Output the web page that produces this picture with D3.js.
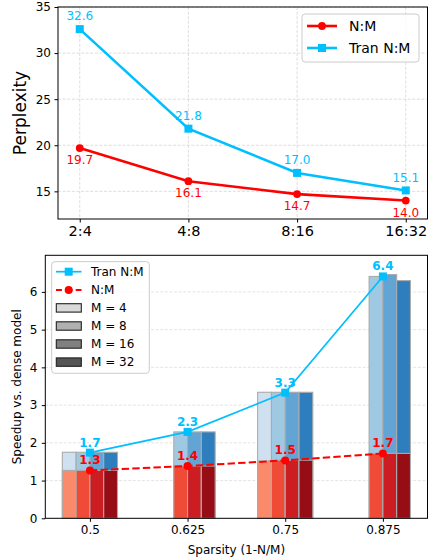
<!DOCTYPE html>
<html>
<head>
<meta charset="utf-8">
<script src="https://cdn.jsdelivr.net/npm/d3@7"></script>
<style>
  html, body { margin: 0; padding: 0; background: #fff; }
  svg { display: block; font-family: "DejaVu Sans", sans-serif; }
</style>
</head>
<body>
<svg id="chart" width="428" height="558"></svg>
<script>
// ---------- Top chart data ----------
const topCategories = ["2:4", "4:8", "8:16", "16:32"];
const topNM = [19.7, 16.1, 14.7, 14.0];
const topTran = [32.6, 21.8, 17.0, 15.1];
const topYTicks = [15, 20, 25, 30, 35];

// ---------- Bottom chart data ----------
const sparsity = [0.5, 0.625, 0.75, 0.875];
const mValues = [4, 8, 16, 32];
const tranM4  = [1.75, null, 3.34, null];
const tranM8  = [1.75, 2.29, 3.34, 6.41];
const tranM16 = [1.75, 2.29, 3.34, 6.46];
const tranM32 = [1.75, 2.29, 3.34, 6.30];
const nmM4  = [1.27, null, 1.52, null];
const nmM8  = [1.27, 1.385, 1.54, 1.72];
const nmM16 = [1.27, 1.385, 1.54, 1.72];
const nmM32 = [1.27, 1.385, 1.54, 1.72];
const tranLine = [1.74, 2.29, 3.33, 6.41];
const nmLine = [1.27, 1.385, 1.535, 1.72];
const bottomYTicks = [0, 1, 2, 3, 4, 5, 6];

const blueColors = ["#cfe1f1", "#9fc8e2", "#62a4d3", "#2e7ebd"];
const redColors  = ["#fb8a6a", "#f04b37", "#cb1d22", "#960d16"];
const legendGrays = ["#d9d9d9", "#b0b0b0", "#808080", "#555555"];
const RED = "#ff0000", CYAN = "#00bfff";

const svg = d3.select("#chart");
svg.append("rect").attr("width", 428).attr("height", 558).attr("fill", "#fff");

// ================= TOP CHART =================
{
  const L = 58, R = 427.5, T = 7, B = 219;
  const x = d3.scaleLinear().domain([-0.2, 3.2]).range([L, R]);
  const y = d3.scaleLinear().domain([12, 35]).range([B, T]);
  const g = svg.append("g");

  // grid
  g.selectAll(".hg").data(topYTicks).join("line")
    .attr("x1", L).attr("x2", R).attr("y1", d => y(d)).attr("y2", d => y(d))
    .attr("stroke", "#d6d6d6").attr("stroke-width", 0.8).attr("stroke-dasharray", "3,1.6");
  g.selectAll(".vg").data(topCategories).join("line")
    .attr("x1", (d, i) => x(i)).attr("x2", (d, i) => x(i)).attr("y1", T).attr("y2", B)
    .attr("stroke", "#d6d6d6").attr("stroke-width", 0.8).attr("stroke-dasharray", "3,1.6");

  // axes
  const xAxis = d3.axisBottom(x).tickValues([0, 1, 2, 3]).tickFormat(i => topCategories[i]).tickSize(3.5).tickPadding(3.5);
  const xa = g.append("g").attr("transform", `translate(0,${B})`).call(xAxis);
  xa.select(".domain").remove();
  xa.selectAll("text").attr("font-size", 14.5).attr("fill", "#000").attr("font-family", "DejaVu Sans");
  xa.selectAll("line").attr("stroke", "#000");
  const yAxis = d3.axisLeft(y).tickValues(topYTicks).tickFormat(d3.format("d")).tickSize(3.5).tickPadding(3.5);
  const ya = g.append("g").attr("transform", `translate(${L},0)`).call(yAxis);
  ya.select(".domain").remove();
  ya.selectAll("text").attr("font-size", 12).attr("fill", "#000").attr("font-family", "DejaVu Sans");
  ya.selectAll("line").attr("stroke", "#000");
  g.append("rect").attr("x", L).attr("y", T).attr("width", R - L).attr("height", B - T)
    .attr("fill", "none").attr("stroke", "#000").attr("stroke-width", 1);

  g.append("text").attr("transform", `translate(20,${(T + B) / 2}) rotate(-90)`)
    .attr("text-anchor", "middle").attr("dominant-baseline", "central")
    .attr("font-size", 17).text("Perplexity");

  const line = d3.line().x((d, i) => x(i)).y(d => y(d));
  g.append("path").datum(topNM).attr("d", line).attr("fill", "none").attr("stroke", RED).attr("stroke-width", 2.6);
  g.append("path").datum(topTran).attr("d", line).attr("fill", "none").attr("stroke", CYAN).attr("stroke-width", 2.6);
  g.selectAll(".nmpt").data(topNM).join("circle")
    .attr("cx", (d, i) => x(i)).attr("cy", d => y(d)).attr("r", 3.9).attr("fill", RED);
  g.selectAll(".trpt").data(topTran).join("rect")
    .attr("x", (d, i) => x(i) - 4).attr("y", d => y(d) - 4).attr("width", 8).attr("height", 8).attr("fill", CYAN);
  g.selectAll(".nml").data(topNM).join("text")
    .attr("x", (d, i) => x(i)).attr("y", d => y(d) + 16).attr("text-anchor", "middle")
    .attr("font-size", 12).attr("fill", RED).text(d => d.toFixed(1));
  g.selectAll(".trl").data(topTran).join("text")
    .attr("x", (d, i) => x(i)).attr("y", d => y(d) - 8.8).attr("text-anchor", "middle")
    .attr("font-size", 12).attr("fill", CYAN).text(d => d.toFixed(1));

  // legend
  const lg = g.append("g");
  lg.append("rect").attr("x", 302).attr("y", 14).attr("width", 117).attr("height", 48).attr("rx", 3)
    .attr("fill", "#fff").attr("fill-opacity", 0.8).attr("stroke", "#cccccc").attr("stroke-width", 1);
  const items = [{label: "N:M", c: RED, m: "circle", yy: 26}, {label: "Tran N:M", c: CYAN, m: "square", yy: 48}];
  items.forEach(it => {
    lg.append("line").attr("x1", 307).attr("x2", 337).attr("y1", it.yy).attr("y2", it.yy)
      .attr("stroke", it.c).attr("stroke-width", 2.6);
    if (it.m === "circle") lg.append("circle").attr("cx", 322).attr("cy", it.yy).attr("r", 3.9).attr("fill", it.c);
    else lg.append("rect").attr("x", 318).attr("y", it.yy - 4).attr("width", 8).attr("height", 8).attr("fill", it.c);
    lg.append("text").attr("x", 349).attr("y", it.yy).attr("dominant-baseline", "central")
      .attr("font-size", 14).text(it.label);
  });
}

// ================= BOTTOM CHART =================
{
  const L = 45.3, R = 427.5, T = 255.3, B = 518.3;
  const x = d3.scaleLinear().domain([0.4429, 0.9321]).range([L, R]);
  const y = d3.scaleLinear().domain([0, 6.97]).range([B, T]);
  const g = svg.append("g");

  g.selectAll(".hg").data(bottomYTicks.filter(d => d > 0)).join("line")
    .attr("x1", L).attr("x2", R).attr("y1", d => y(d)).attr("y2", d => y(d))
    .attr("stroke", "#dedede").attr("stroke-width", 0.8).attr("stroke-dasharray", "3,1.6");

  const bw = x(0.5 + 0.01765) - x(0.5);
  const tranSets = [tranM4, tranM8, tranM16, tranM32];
  const nmSets = [nmM4, nmM8, nmM16, nmM32];
  mValues.forEach((m, k) => {
    const off = (k - 1.5) * bw;
    const tr = sparsity.map((s, i) => ({s, v: tranSets[k][i]})).filter(d => d.v != null);
    const nm = sparsity.map((s, i) => ({s, v: nmSets[k][i]})).filter(d => d.v != null);
    g.selectAll(null).data(tr).join("rect")
      .attr("x", d => x(d.s) + off - bw / 2).attr("width", bw)
      .attr("y", d => y(d.v)).attr("height", d => y(0) - y(d.v))
      .attr("fill", blueColors[k]).attr("stroke", "#ababab").attr("stroke-width", 1.1);
    g.selectAll(null).data(nm).join("rect")
      .attr("x", d => x(d.s) + off - bw / 2).attr("width", bw)
      .attr("y", d => y(d.v)).attr("height", d => y(0) - y(d.v))
      .attr("fill", redColors[k]).attr("stroke", "#ababab").attr("stroke-width", 1.1);
  });

  // axes
  const xAxis = d3.axisBottom(x).tickValues(sparsity).tickFormat(d => String(d)).tickSize(3.5).tickPadding(3.5);
  const xa = g.append("g").attr("transform", `translate(0,${B})`).call(xAxis);
  xa.select(".domain").remove();
  xa.selectAll("text").attr("font-size", 12).attr("fill", "#000").attr("font-family", "DejaVu Sans");
  xa.selectAll("line").attr("stroke", "#000");
  const yAxis = d3.axisLeft(y).tickValues(bottomYTicks).tickFormat(d3.format("d")).tickSize(3.5).tickPadding(4.5);
  const ya = g.append("g").attr("transform", `translate(${L},0)`).call(yAxis);
  ya.select(".domain").remove();
  ya.selectAll("text").attr("font-size", 12).attr("fill", "#000").attr("font-family", "DejaVu Sans");
  ya.selectAll("line").attr("stroke", "#000");
  g.append("rect").attr("x", L).attr("y", T).attr("width", R - L).attr("height", B - T)
    .attr("fill", "none").attr("stroke", "#000").attr("stroke-width", 1);

  g.append("text").attr("transform", `translate(17,${(T + B) / 2}) rotate(-90)`)
    .attr("text-anchor", "middle").attr("dominant-baseline", "central")
    .attr("font-size", 12).text("Speedup vs. dense model");
  g.append("text").attr("x", (L + R) / 2).attr("y", 549.5).attr("text-anchor", "middle")
    .attr("dominant-baseline", "central").attr("font-size", 12).text("Sparsity (1-N/M)");

  // lines
  const line = d3.line().x((d, i) => x(sparsity[i])).y(d => y(d));
  g.append("path").datum(tranLine).attr("d", line).attr("fill", "none").attr("stroke", CYAN).attr("stroke-width", 1.7);
  g.append("path").datum(nmLine).attr("d", line).attr("fill", "none").attr("stroke", RED).attr("stroke-width", 2)
    .attr("stroke-dasharray", "7.4,3.2");
  g.selectAll(".trpt").data(tranLine).join("rect")
    .attr("x", (d, i) => x(sparsity[i]) - 4).attr("y", d => y(d) - 4).attr("width", 8).attr("height", 8).attr("fill", CYAN);
  g.selectAll(".nmpt").data(nmLine).join("circle")
    .attr("cx", (d, i) => x(sparsity[i])).attr("cy", d => y(d)).attr("r", 4).attr("fill", RED);
  g.selectAll(".trl").data(tranLine).join("text")
    .attr("x", (d, i) => x(sparsity[i])).attr("y", d => y(d) - 10).attr("text-anchor", "middle")
    .attr("dominant-baseline", "central").attr("font-size", 12).attr("font-weight", "bold")
    .attr("fill", CYAN).text(d => d.toFixed(1));
  g.selectAll(".nml").data(nmLine).join("text")
    .attr("x", (d, i) => x(sparsity[i])).attr("y", d => y(d) - 10).attr("text-anchor", "middle")
    .attr("dominant-baseline", "central").attr("font-size", 12).attr("font-weight", "bold")
    .attr("fill", RED).text(d => d.toFixed(1));

  // legend
  const lg = g.append("g");
  lg.append("rect").attr("x", 51.7).attr("y", 261.7).attr("width", 97.6).attr("height", 111.6).attr("rx", 3)
    .attr("fill", "#fff").attr("fill-opacity", 0.8).attr("stroke", "#cccccc").attr("stroke-width", 1);
  const ys = [271.7, 290, 307.9, 326, 344, 362.1];
  lg.append("line").attr("x1", 56).attr("x2", 81.5).attr("y1", ys[0]).attr("y2", ys[0]).attr("stroke", CYAN).attr("stroke-width", 1.7);
  lg.append("rect").attr("x", 64.7).attr("y", ys[0] - 4).attr("width", 8).attr("height", 8).attr("fill", CYAN);
  lg.append("text").attr("x", 91).attr("y", ys[0]).attr("dominant-baseline", "central").attr("font-size", 12).text("Tran N:M");
  lg.append("line").attr("x1", 56).attr("x2", 81.5).attr("y1", ys[1]).attr("y2", ys[1]).attr("stroke", RED).attr("stroke-width", 2)
    .attr("stroke-dasharray", "7.4,3.2").attr("stroke-dashoffset", 1.5);
  lg.append("circle").attr("cx", 68.7).attr("cy", ys[1]).attr("r", 4).attr("fill", RED);
  lg.append("text").attr("x", 91).attr("y", ys[1]).attr("dominant-baseline", "central").attr("font-size", 12).text("N:M");
  mValues.forEach((m, k) => {
    const yy = ys[k + 2];
    lg.append("rect").attr("x", 56.3).attr("y", yy - 4.2).attr("width", 25).attr("height", 8.4)
      .attr("fill", legendGrays[k]).attr("stroke", "#222").attr("stroke-width", 1.1);
    lg.append("text").attr("x", 91).attr("y", yy).attr("dominant-baseline", "central").attr("font-size", 12).text(`M = ${m}`);
  });
}
</script>
</body>
</html>
